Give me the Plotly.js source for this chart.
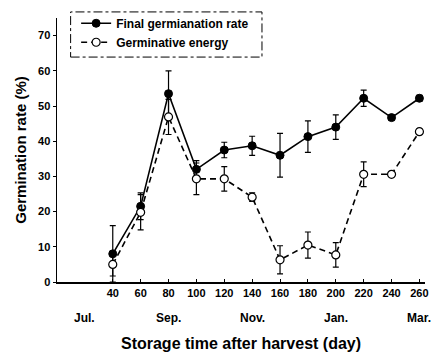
<!DOCTYPE html>
<html>
<head>
<meta charset="utf-8">
<script src="https://cdn.plot.ly/plotly-3.0.1.min.js"></script>
<style>html,body{margin:0;padding:0;background:#fff;}#chart{width:432px;height:356px;}</style>
</head>
<body>
<div id="chart"></div>
<script>
const days = [40, 60, 80, 100, 120, 140, 160, 180, 200, 220, 240, 260];
const finalRate = [8, 21.5, 53.5, 32, 37.5, 38.7, 36, 41.3, 44, 52.2, 46.7, 52.2];
const finalErr = [8, 3.8, 6.5, 2.5, 2.2, 2.7, 6.2, 4.5, 3.5, 2.3, 0.8, 0.8];
const energy = [5, 19.8, 46.9, 29.3, 29.3, 24.1, 6.3, 10.5, 7.7, 30.6, 30.6, 42.7];
const energyErr = [3.3, 5, 5, 4.5, 3.5, 1.2, 4, 3.7, 3.5, 3.5, 0.5, 0.8];
const monthPos = [20, 80, 140, 200, 260];
const monthLabels = ['Jul.', 'Sep.', 'Nov.', 'Jan.', 'Mar.'];
const seriesNames = ['Final germianation rate', 'Germinative energy'];

const font = 'Liberation Sans, Arial, sans-serif';

const traces = [
  {
    x: days, y: finalRate, name: seriesNames[0], type: 'scatter', mode: 'lines+markers',
    line: {color: '#000', width: 1.6},
    marker: {symbol: 'circle', size: 8, color: '#000', line: {color: '#000', width: 1}},
    error_y: {type: 'data', array: finalErr, visible: true, color: '#000', thickness: 1.2, width: 3}
  },
  {
    x: days, y: energy, name: seriesNames[1], type: 'scatter', mode: 'lines+markers',
    line: {color: '#000', width: 1.6, dash: '6px,4px'},
    marker: {symbol: 'circle', size: 8, color: '#fff', line: {color: '#000', width: 1.2}},
    error_y: {type: 'data', array: energyErr, visible: true, color: '#000', thickness: 1.2, width: 3}
  }
];

const annotations = monthPos.map((p, i) => ({
  x: p, xref: 'x', y: -0.136, yref: 'paper', text: monthLabels[i], showarrow: false,
  font: {family: font, size: 12, color: '#000', weight: 'bold'}, xanchor: 'center', yanchor: 'middle'
}));

const layout = {
  width: 432, height: 356,
  margin: {l: 57, r: 7, t: 18, b: 74},
  paper_bgcolor: '#fff', plot_bgcolor: '#fff',
  showlegend: true,
  legend: {
    x: 0.052, y: 1.035, xanchor: 'left', yanchor: 'top',
    bgcolor: 'rgba(0,0,0,0)', borderwidth: 0,
    font: {family: font, size: 12, color: '#000', weight: 'bold'},
    tracegroupgap: 0, itemwidth: 30
  },
  xaxis: {
    range: [0, 264], tickvals: days, ticks: 'inside', ticklen: 3, tickcolor: '#000',
    showline: true, linecolor: '#000', linewidth: 1.5, showgrid: false, zeroline: false,
    tickfont: {family: font, size: 11, color: '#000', weight: 'bold'},
    title: {text: 'Storage time after harvest (day)', standoff: 40,
      font: {family: font, size: 16, color: '#000', weight: 'bold'}}
  },
  yaxis: {
    range: [0, 75], tickvals: [0, 10, 20, 30, 40, 50, 60, 70], ticks: 'outside', ticklen: 3, tickcolor: '#000',
    showline: true, linecolor: '#000', linewidth: 1.5, showgrid: false, zeroline: false,
    tickfont: {family: font, size: 11, color: '#000', weight: 'bold'},
    title: {text: 'Germination rate (%)', standoff: 8,
      font: {family: font, size: 15, color: '#000', weight: 'bold'}}
  },
  shapes: [{
    type: 'rect', xref: 'paper', yref: 'paper', x0: 0.037, x1: 0.557, y0: 0.852, y1: 1.023,
    line: {color: '#000', width: 1, dash: 'dashdot'}, fillcolor: 'rgba(0,0,0,0)'
  }],
  annotations: annotations
};

Plotly.newPlot('chart', traces, layout, {displayModeBar: false, staticPlot: true});
</script>
</body>
</html>
